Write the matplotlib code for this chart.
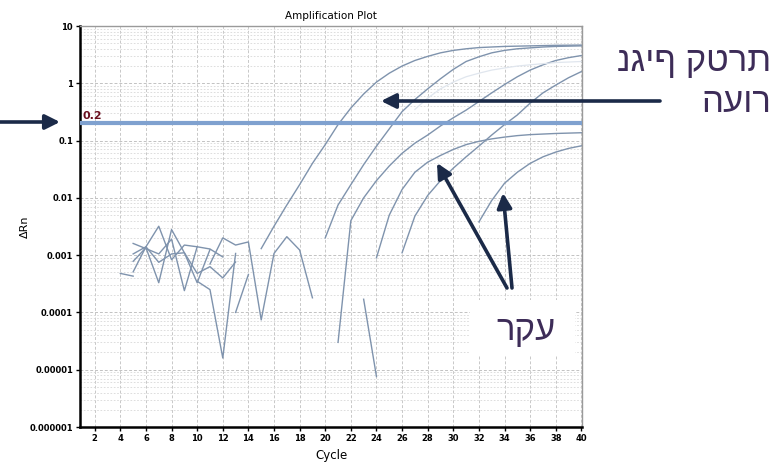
import numpy as np
import matplotlib.pyplot as plt
from matplotlib.patches import Rectangle
from matplotlib.ticker import LogLocator, NullFormatter

# amplification curves (cycle, delta Rn)
cyc_a = list(range(15, 41))
val_a = [0.0013, 0.0032, 0.0075, 0.017, 0.040, 0.085, 0.19, 0.37, 0.65, 1.05,
         1.5, 2.0, 2.5, 2.95, 3.4, 3.75, 4.0, 4.2, 4.3, 4.4,
         4.45, 4.5, 4.55, 4.6, 4.62, 4.65]
cyc_b = list(range(20, 41))
val_b = [0.002, 0.0075, 0.017, 0.038, 0.08, 0.16, 0.32, 0.52, 0.8, 1.2,
         1.75, 2.4, 2.9, 3.4, 3.75, 4.0, 4.15, 4.3, 4.4, 4.45, 4.5]
cyc_c = list(range(21, 41))
val_c = [3.0e-5, 0.004, 0.010, 0.020, 0.036, 0.060, 0.09, 0.125, 0.18, 0.25,
         0.34, 0.48, 0.68, 0.95, 1.3, 1.7, 2.1, 2.5, 2.8, 3.05]
cyc_d = list(range(24, 41))
val_d = [0.0009, 0.005, 0.014, 0.028, 0.042, 0.055, 0.07, 0.085, 0.097, 0.107,
         0.115, 0.122, 0.127, 0.13, 0.133, 0.135, 0.137]
cyc_e = list(range(26, 41))
val_e = [0.0011, 0.0048, 0.011, 0.020, 0.033, 0.052, 0.08, 0.125, 0.19, 0.28,
         0.45, 0.68, 0.93, 1.25, 1.6]
cyc_f = list(range(32, 41))
val_f = [0.0038, 0.009, 0.018, 0.028, 0.04, 0.052, 0.063, 0.073, 0.081]
cyc_faint = list(range(27, 41))
val_faint = [0.35, 0.55, 0.8, 1.05, 1.3, 1.5, 1.7, 1.85, 2.0, 2.1, 2.2, 2.3, 2.35, 2.4]

# background noise traces
noise = [
    ([4, 5], [4.8e-4, 4.3e-4]),
    ([5, 6, 7, 8, 9, 10, 11, 12], [1.05e-3, 1.4e-3, 3.2e-3, 8.3e-4, 1.5e-3, 1.4e-3, 1.28e-3, 9.3e-4]),
    ([5, 6, 7, 8, 9, 10, 11], [7.8e-4, 1.35e-3, 3.3e-4, 2.8e-3, 1.1e-3, 3.3e-4, 1.25e-3]),
    ([5, 6, 7, 8, 9, 10], [1.6e-3, 1.3e-3, 1.05e-3, 1.9e-3, 2.4e-4, 1.4e-3]),
    ([5, 6, 7, 8, 9, 10, 11, 12, 13], [5.1e-4, 1.4e-3, 7.5e-4, 1.05e-3, 1.1e-3, 4.8e-4, 6.3e-4, 4.0e-4, 7.6e-4]),
    ([10, 11, 12, 13], [3.5e-4, 2.5e-4, 1.6e-5, 1.07e-3]),
    ([11, 12, 13, 14, 15, 16, 17, 18, 19], [7.0e-4, 2.0e-3, 1.5e-3, 1.7e-3, 7.4e-5, 1.07e-3, 2.1e-3, 1.23e-3, 1.8e-4]),
    ([13, 14], [1.0e-4, 4.6e-4]),
    ([23, 24], [1.7e-4, 7.6e-6]),
]

threshold = 0.2
x_ticks = list(range(2, 41, 2))
y_ticks = [1e-6, 1e-5, 1e-4, 1e-3, 1e-2, 1e-1, 1, 10]
y_labels = ['0.000001', '0.00001', '0.0001', '0.001', '0.01', '0.1', '1', '10']

label_virus = ['נגיף קטרת', 'העור']
label_bg = 'רקע'

W, H = 782, 465
def fx(x):
    return x / W
def fy(y):
    return 1 - y / H

fig = plt.figure(figsize=(7.82, 4.65), dpi=100)
ax = fig.add_axes([fx(80), fy(427), fx(582) - fx(80), fy(26) - fy(427)])

curve_col = '#7f93ad'
for c, v in [(cyc_a, val_a), (cyc_b, val_b), (cyc_c, val_c), (cyc_d, val_d),
             (cyc_e, val_e), (cyc_f, val_f)]:
    ax.plot(c, v, color=curve_col, lw=1.0)
ax.plot(cyc_faint, val_faint, color='#e0e6ee', lw=0.9)
for c, v in noise:
    ax.plot(c, v, color=curve_col, lw=1.0)

ax.axhline(threshold, color='#7fa1cf', lw=3, zorder=3)
ax.text(1.05, threshold * 1.08, '0.2', color='#6a0f1f', fontsize=8,
        fontweight='bold', va='bottom', ha='left')

ax.set_yscale('log')
ax.set_ylim(1e-6, 10)
ax.set_xlim(0.85, 40.05)
ax.set_xticks(x_ticks)
ax.set_xticklabels([str(t) for t in x_ticks], fontsize=6, fontweight='bold')
ax.set_yticks(y_ticks)
ax.set_yticklabels(y_labels, fontsize=6, fontweight='bold')
ax.yaxis.set_minor_locator(LogLocator(base=10, subs=np.arange(2, 10)))
ax.yaxis.set_minor_formatter(NullFormatter())
ax.tick_params(axis='both', length=3, width=1, pad=2)
ax.tick_params(axis='y', which='minor', length=0)

ax.grid(True, which='major', axis='x', ls=(0, (3, 2)), color='#c8c8c8', lw=0.7)
ax.grid(True, which='major', axis='y', ls=(0, (3, 2)), color='#c2c2c2', lw=0.7)
ax.grid(True, which='minor', axis='y', ls=(0, (2, 2)), color='#d8d8d8', lw=0.6)

for s in ['left', 'bottom']:
    ax.spines[s].set_linewidth(1.8)
    ax.spines[s].set_color('black')
for s in ['top', 'right']:
    ax.spines[s].set_linewidth(1.0)
    ax.spines[s].set_color('#9a9a9a')

ax.set_title('Amplification Plot', fontsize=7.5, pad=5)
ax.set_xlabel('Cycle', fontsize=8.5, labelpad=4)
ax.set_ylabel('ΔRn', fontsize=8)
ax.yaxis.set_label_coords(-0.1, 0.5)

navy = '#1b2a48'
purple = '#3d2c58'
heb = ['Liberation Sans', 'DejaVu Sans']

fig.text(fx(771), fy(62), label_virus[0], ha='right', va='center',
         fontsize=25, color=purple, family=heb)
fig.text(fx(771), fy(103), label_virus[1], ha='right', va='center',
         fontsize=25, color=purple, family=heb)

fig.add_artist(Rectangle((fx(470), fy(356)), fx(575) - fx(470), fy(300) - fy(356),
                         transform=fig.transFigure, facecolor='white',
                         edgecolor='none', zorder=5))
fig.text(fx(526), fy(330), label_bg, ha='center', va='center',
         fontsize=25, color=purple, family=heb, zorder=6)

arrow = dict(arrowstyle='-|>', color=navy, lw=2.6, mutation_scale=22,
             shrinkA=0, shrinkB=0)
ax.annotate('', xy=(fx(381), fy(101)), xytext=(fx(660), fy(101)),
            xycoords='figure fraction', textcoords='figure fraction',
            arrowprops=arrow, annotation_clip=False)
ax.annotate('', xy=(fx(60), fy(122)), xytext=(fx(0), fy(122)),
            xycoords='figure fraction', textcoords='figure fraction',
            arrowprops=arrow, annotation_clip=False)
ax.annotate('', xy=(fx(437), fy(163)), xytext=(fx(507), fy(288)),
            xycoords='figure fraction', textcoords='figure fraction',
            arrowprops=arrow, annotation_clip=False)
ax.annotate('', xy=(fx(503), fy(193)), xytext=(fx(512), fy(288)),
            xycoords='figure fraction', textcoords='figure fraction',
            arrowprops=arrow, annotation_clip=False)

fig.savefig('out.png', dpi=100)
